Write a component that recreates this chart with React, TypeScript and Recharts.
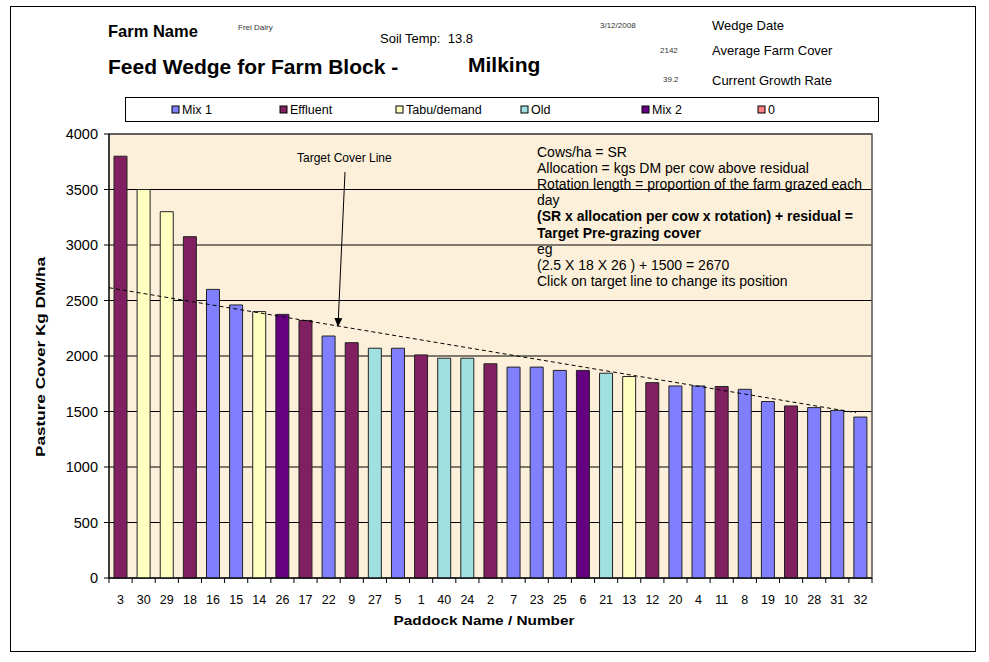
import { ComposedChart, Bar, Cell, XAxis, YAxis, CartesianGrid, ReferenceLine, ReferenceArea } from "recharts";

// paddocks in wedge order (highest cover first)
const paddocks = ["3", "30", "29", "18", "16", "15", "14", "26", "17", "22", "9", "27", "5", "1", "40", "24", "2", "7", "23", "25", "6", "21", "13", "12", "20", "4", "11", "8", "19", "10", "28", "31", "32"];
const covers = [3800, 3500, 3300, 3075, 2600, 2460, 2400, 2375, 2320, 2180, 2120, 2070, 2070, 2010, 1980, 1980, 1930, 1900, 1900, 1870, 1870, 1845, 1815, 1760, 1730, 1730, 1725, 1700, 1590, 1550, 1535, 1510, 1450];
const groups = ["Effluent", "Tabu/demand", "Tabu/demand", "Effluent", "Mix 1", "Mix 1", "Tabu/demand", "Mix 2", "Effluent", "Mix 1", "Effluent", "Old", "Mix 1", "Effluent", "Old", "Old", "Effluent", "Mix 1", "Mix 1", "Mix 1", "Mix 2", "Old", "Tabu/demand", "Effluent", "Mix 1", "Mix 1", "Effluent", "Mix 1", "Mix 1", "Effluent", "Mix 1", "Mix 1", "Mix 1"];

const groupNames = ["Mix 1", "Effluent", "Tabu/demand", "Old", "Mix 2", "0"];
const groupColors = ["#8080FF", "#802060", "#FFFFC0", "#A0E0E0", "#660080", "#FF8080"];

const yTicks = [0, 500, 1000, 1500, 2000, 2500, 3000, 3500, 4000];

// target cover line, start and end (position in paddock slots, kg DM/ha)
const targetLine = [
  { pos: 0, cover: 2615 },
  { pos: 32.3, cover: 1490 },
];

const notes = [
  { text: "Cows/ha = SR", bold: false },
  { text: "Allocation = kgs DM per cow above residual", bold: false },
  { text: "Rotation length = proportion of the farm grazed each", bold: false },
  { text: "day", bold: false },
  { text: "(SR x allocation per cow x rotation) + residual =", bold: true },
  { text: "Target Pre-grazing cover", bold: true },
  { text: "eg", bold: false },
  { text: "(2.5 X 18 X 26 ) + 1500 = 2670", bold: false },
  { text: "Click on target line to change its position", bold: false },
];

// each paddock sits in the middle of its slot on a numeric axis
const data = paddocks.map((p, i) => ({ slot: i + 0.5, paddock: p, cover: covers[i], group: groups[i] }));
// slot edges get a tick mark, slot middles get the paddock name
const xTicks: number[] = [];
paddocks.forEach((_, i) => xTicks.push(i, i + 0.5));
xTicks.push(paddocks.length);

const font = "'Liberation Sans', Arial, sans-serif";
const legendX = [172, 280, 396, 521, 642, 758];

const PaddockTick = (props: any) => {
  const { x, y, payload } = props;
  const v = payload.value;
  if (Number.isInteger(v)) {
    return <line x1={x} x2={x} y1={y - 5} y2={y} stroke="#000" />;
  }
  return (
    <text x={x} y={y + 21} textAnchor="middle" fontSize={12.5} fill="#000" fontFamily={font}>
      {paddocks[Math.floor(v)]}
    </text>
  );
};

export default function App() {
  return (
    <div style={{ position: "absolute", left: 0, top: 0, width: 989, height: 662, background: "#fff", fontFamily: font }}>
      <ComposedChart
        width={989}
        height={662}
        data={data}
        margin={{ top: 134, right: 117, bottom: 54, left: 0 }}
        barSize={13}
      >
        <CartesianGrid vertical={false} stroke="#000" fill="#FCF0DA" />
        <XAxis
          dataKey="slot"
          type="number"
          domain={[0, paddocks.length]}
          ticks={xTicks}
          interval={0}
          height={30}
          tickLine={false}
          tickSize={5}
          tickMargin={0}
          axisLine={{ stroke: "#000" }}
          tick={<PaddockTick />}
        />
        <YAxis
          width={109}
          domain={[0, 4000]}
          ticks={yTicks}
          tickSize={5}
          tickMargin={6}
          tickLine={{ stroke: "#000" }}
          axisLine={{ stroke: "#000" }}
          tick={{ fontSize: 14.5, fill: "#000", fontFamily: font }}
        />
        <ReferenceArea x1={0} x2={paddocks.length} y1={0} y2={4000} fill="none" stroke="#555" strokeWidth={1.5} ifOverflow="visible" />
        <Bar dataKey="cover" stroke="#222" strokeWidth={1} isAnimationActive={false}>
          {data.map((d, i) => (
            <Cell key={i} fill={groupColors[groupNames.indexOf(d.group)]} />
          ))}
        </Bar>
        <ReferenceLine
          segment={[{ x: targetLine[0].pos, y: targetLine[0].cover }, { x: targetLine[1].pos, y: targetLine[1].cover }]}
          stroke="#000"
          strokeDasharray="4 3"
          ifOverflow="visible"
        />
      </ComposedChart>

      <svg width={989} height={662} style={{ position: "absolute", left: 0, top: 0, pointerEvents: "none" }} fontFamily={font}>
        <defs>
          <marker id="arr" markerWidth="10" markerHeight="10" refX="8" refY="5" orient="auto" markerUnits="userSpaceOnUse">
            <path d="M0,1 L9,5 L0,9 Z" fill="#000" />
          </marker>
        </defs>
        <rect x={10.5} y={6.5} width={965} height={645} fill="none" stroke="#000" />

        <text x={108} y={37} fontSize={16.5} fontWeight="bold">Farm Name</text>
        <text x={238} y={30} fontSize={8} fill="#333">Frei Dairy</text>
        <text x={380} y={43} fontSize={13} xmlSpace="preserve">Soil Temp:  13.8</text>
        <text x={108} y={74} fontSize={21} fontWeight="bold">Feed Wedge for Farm Block -</text>
        <text x={468} y={72} fontSize={21} fontWeight="bold">Milking</text>
        <text x={600} y={28} fontSize={8} fill="#333">3/12/2008</text>
        <text x={712} y={30} fontSize={13}>Wedge Date</text>
        <text x={660} y={53} fontSize={8} fill="#333">2142</text>
        <text x={712} y={55} fontSize={13}>Average Farm Cover</text>
        <text x={663} y={82} fontSize={8} fill="#333">39.2</text>
        <text x={712} y={85} fontSize={13}>Current Growth Rate</text>

        <rect x={125.5} y={97.5} width={753} height={24} fill="#fff" stroke="#000" />
        {groupNames.map((g, i) => (
          <g key={g}>
            <rect x={legendX[i]} y={106} width={7} height={7} fill={groupColors[i]} stroke="#000" />
            <text x={legendX[i] + 10} y={114} fontSize={12.5}>{g}</text>
          </g>
        ))}

        {notes.map((n, i) => (
          <text key={i} x={537} y={157 + i * 16.1} fontSize={14} fontWeight={n.bold ? "bold" : "normal"}>
            {n.text}
          </text>
        ))}

        <text x={297} y={162} fontSize={12}>Target Cover Line</text>
        <line x1={345} y1={172} x2={338} y2={326} stroke="#000" strokeWidth={1} markerEnd="url(#arr)" />

        <text
          x={45}
          y={357}
          fontSize={13}
          fontWeight="bold"
          textAnchor="middle"
          textLength={200}
          lengthAdjust="spacingAndGlyphs"
          transform="rotate(-90 45 357)"
        >
          Pasture Cover Kg DM/ha
        </text>
        <text x={484} y={625} fontSize={13.5} fontWeight="bold" textAnchor="middle" textLength={181} lengthAdjust="spacingAndGlyphs">
          Paddock Name / Number
        </text>
      </svg>
    </div>
  );
}
